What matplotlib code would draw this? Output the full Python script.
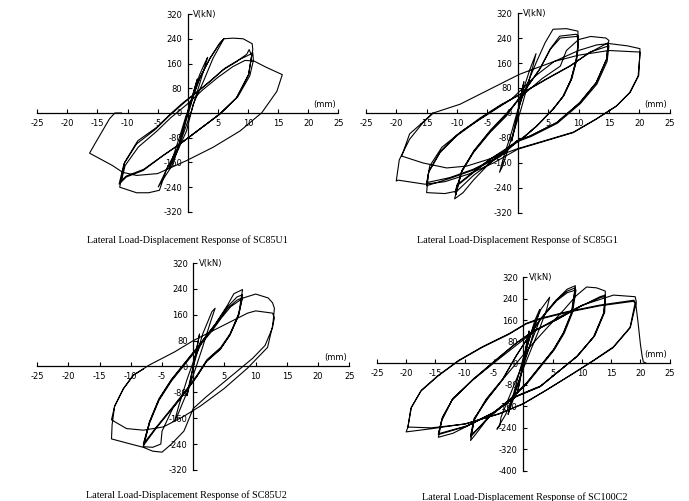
import numpy as np
import matplotlib
matplotlib.use("Agg")
import matplotlib.pyplot as plt

# Hysteresis paths (displacement mm, lateral load kN)
sc85u1_pts = [
    (0, 0), (0.6, 40), (1.2, 85), (1.6, 110), (1.2, 80), (0.5, 25), (-0.2, -20), (-0.8, -60), (-1.4, -100),
    (-1.1, -75), (-0.4, -25), (0.2, 15),
    (1, 70), (2, 125), (2.8, 160), (3.3, 180), (2.6, 135), (1.6, 70), (0.6, 5), (-0.6, -60), (-1.6, -115),
    (-2.6, -160), (-3.1, -180), (-2.5, -145), (-1.4, -80), (-0.3, -10),
    (0.5, 30), (2, 113), (3.7, 177), (5.3, 225), (6, 240), (4.2, 177), (2.6, 102), (0.9, 28), (-0.2, -58),
    (-1.9, -132), (-3.6, -186), (-4.9, -239), (-2.4, -164), (-0.8, -58), (0.3, 28), (2, 113), (3.7, 177),
    (5.3, 225), (6, 240), (7.5, 242), (9.2, 240), (10.7, 224), (10.8, 205), (10.1, 124), (8.1, 49), (5.3, -4),
    (3.1, -36), (-1.3, -100), (-3.5, -180), (-4.7, -250), (-6.5, -258), (-8.5, -258), (-11.3, -240),
    (-10.5, -160), (-8.3, -90), (-5.2, -47), (-2.7, 0), (-0.8, 33), (1.7, 70), (3.7, 102), (5.9, 140),
    (8.1, 166), (9.8, 190), (10.2, 205), (10.6, 185), (10.1, 124), (8.1, 49), (5.3, -4), (3.1, -36),
    (-1.3, -100), (-4.1, -138), (-7.4, -186), (-10.2, -207), (-11.4, -230),
    (-10.6, -165), (-8.5, -100), (-5.5, -55), (-3, -8), (-0.5, 35), (2, 75), (4, 108), (6.2, 145), (8.5, 172),
    (10.2, 188), (10.8, 195), (10.9, 170), (10.3, 120), (8.3, 52), (5.5, 0), (3.3, -33), (-1.1, -98),
    (-4, -136), (-7.3, -182), (-10.2, -204), (-11, -218),
    (-10.4, -170), (-8.2, -110), (-5.2, -60), (-2.8, -15), (0, 30), (2.5, 75), (5, 115), (7.5, 150),
    (9.5, 170), (11, 168), (13, 148), (15.7, 124), (14.8, 70), (12.3, 1), (8.7, -58), (4.2, -111),
    (-0.2, -154), (-5, -196), (-8.5, -202), (-10.8, -192), (-12.5, -170), (-16.3, -130), (-15.4, -99),
    (-13, -19), (-12.1, 0), (-11, 0),
]

sc85g1_pts = [
    (0, 0), (0.5, 50), (1, 100), (0.7, 70), (0, 0), (-0.5, -50), (-1, -90), (-0.6, -50), (0, 0),
    (1, 80), (2, 140), (3, 190), (2.5, 150), (1.5, 80), (0.5, 10), (-0.5, -50), (-1.5, -110), (-2.5, -170),
    (-3, -190), (-2.3, -140), (-1, -60), (0, 10),
    (1.5, 90), (3, 160), (4.5, 225), (5.8, 268), (8, 270), (9.9, 262), (9.9, 200), (9.6, 172), (8.8, 108),
    (7.5, 54), (5.8, 12), (3.1, -42), (0.9, -79), (-1.5, -110), (-4.6, -160), (-7.3, -215), (-9, -255),
    (-10.4, -275),
    (-9.3, -191), (-7.3, -127), (-4.6, -63), (-1.9, -10), (0.9, 65), (3.6, 140), (5.3, 204), (6.9, 246),
    (9.6, 252), (10, 245),
    (9.7, 170), (8.9, 110), (7.6, 56), (5.9, 14), (3.2, -40), (1, -77), (-1.4, -108), (-4.6, -148),
    (-7.3, -191), (-10, -233), (-10.2, -262),
    (-9.2, -185), (-7.2, -122), (-4.5, -58), (-1.8, -5), (1, 68), (3.7, 143), (5.4, 205), (7, 240),
    (9.7, 245), (10, 238),
    (9.6, 165), (8.7, 105), (7.4, 52), (5.7, 10), (3, -44), (0.8, -81), (-1.5, -112), (-4.7, -150),
    (-7.4, -190), (-10, -230), (-10.3, -255),
    (-9.2, -185), (-7.2, -120), (-4.5, -55), (-1.8, 0), (1, 60), (4, 110), (7, 150), (8, 200), (10, 235),
    (12, 245), (14.5, 240), (15, 232), (14.9, 225),
    (14.6, 172), (12.9, 97), (10.2, 33), (6.4, -31), (2, -74), (-0.2, -90), (-3, -138), (-7.3, -200),
    (-10, -250), (-12, -258), (-15, -255),
    (-14.7, -191), (-12.8, -127), (-10.1, -74), (-6.3, -20), (-3, 22), (0.9, 65), (4.7, 108), (8.6, 150),
    (11.8, 193), (14.9, 225),
    (14.6, 172), (12.9, 97), (10.2, 33), (6.4, -31), (2, -74), (-0.2, -90), (-3, -138), (-7.3, -180),
    (-11.2, -207), (-15, -223),
    (-14.6, -185), (-12.7, -122), (-10, -70), (-6.2, -16), (-2.9, 25), (1, 67), (4.8, 110), (8.7, 152),
    (11.9, 195), (15, 215),
    (14.7, 165), (13, 92), (10.3, 30), (6.5, -33), (2.1, -76), (-0.1, -92), (-2.9, -140), (-7.2, -182),
    (-11.1, -209), (-15, -233),
    (-14.5, -170), (-12.5, -110), (-9, -55), (-5, -5), (-1, 45), (3, 120), (6, 165), (10, 200), (13, 218),
    (15.1, 222), (18, 215), (20.1, 206), (20.1, 185),
    (19.8, 118), (18.4, 65), (16.2, 22), (12.9, -20), (9.1, -63), (3.6, -95), (0, -116), (-4, -160),
    (-8, -195), (-12, -220), (-15.3, -228), (-19.7, -215), (-20, -218),
    (-19.5, -150), (-17.8, -84), (-15.6, -31), (-13.9, 0), (-9.5, 28), (-4.6, 76), (0.3, 124), (2.5, 140),
    (6, 165), (10, 185), (15, 200), (20.1, 195),
    (19.9, 120), (18.5, 66), (16.3, 23), (13, -18), (9.2, -61), (3.7, -93), (0, -114), (-4.6, -147),
    (-8.4, -170), (-11.7, -176), (-15.6, -160), (-19.1, -138), (-17.8, -67), (-15, -19), (-14, 0),
]

sc85u2_pts = [
    (0, 0), (0.5, 50), (1, 100), (0.7, 70), (0, 0), (-0.5, -50), (-1, -90), (-0.6, -50), (0, 0),
    (1.5, 100), (3, 170), (3.5, 180), (2.8, 140), (1.5, 60), (0.3, -10), (-1, -80), (-2.5, -150),
    (-3, -170), (-2.3, -120), (-1, -40), (0.3, 30),
    (1.5, 80), (3.5, 130), (5.5, 190), (6.5, 225), (7.9, 238),
    (7.3, 165), (5.9, 101), (4.4, 59), (2.2, 21), (0.6, -27), (-1, -69), (-3.2, -123), (-5.9, -187),
    (-8, -240),
    (-7, -170), (-5.5, -100), (-3.5, -40), (-1, 20), (1.5, 80), (3.5, 130), (5.5, 185), (7, 215),
    (7.9, 222),
    (7.3, 160), (5.9, 98), (4.4, 56), (2.2, 18), (0.6, -30), (-1, -72), (-3.2, -126), (-5.9, -190),
    (-8, -245),
    (-7, -172), (-5.5, -102), (-3.5, -42), (-1, 18), (1.5, 78), (3.5, 128), (5.5, 180), (7, 205),
    (7.9, 213),
    (7.2, 155), (5.8, 95), (4.3, 52), (2.1, 15), (0.5, -33), (-1.1, -75), (-3.3, -130), (-5, -200),
    (-5.2, -240), (-6.5, -250), (-8, -248),
    (-7, -175), (-5.5, -105), (-3.5, -45), (-1, 15), (1.5, 75), (3, 110), (4.5, 150), (6, 185), (8, 212),
    (10, 224), (12, 212), (12.7, 197), (13, 180),
    (12.7, 120), (11.5, 65), (9.5, 25), (7, -15), (4.5, -55), (2, -95), (0, -130), (-1.5, -200),
    (-3.5, -240), (-5, -265), (-6.5, -262), (-8, -250), (-10, -240), (-13.1, -224),
    (-13, -180), (-12.6, -123), (-11.2, -69), (-9.6, -27), (-7, 5), (-3, 45), (0, 80), (4.4, 123),
    (8.7, 165), (10, 172), (12.7, 165), (13, 150),
    (11.9, 59), (8.7, -5), (4.9, -69), (1.1, -123), (-1.6, -155), (-4.8, -187), (-8, -197),
    (-10.7, -192), (-13.1, -165), (-12.6, -123), (-11.2, -69), (-9.6, -27), (-8, -8),
]

sc100c2_pts = [
    (0, 0), (0.5, 60), (1, 120), (0.7, 90), (0, 10), (-0.5, -50), (-1, -110), (-0.6, -70), (0, 0),
    (1, 90), (2, 160), (2.8, 200), (2.3, 160), (1.3, 80), (0.3, 10), (-0.8, -70), (-1.8, -140),
    (-2.6, -190), (-2, -140), (-1, -60), (0, 20),
    (1.5, 120), (3, 200), (4.5, 245), (4, 200), (2.8, 130), (1.5, 60), (0, -20), (-1.5, -110),
    (-3, -190), (-4.5, -245), (-4, -232), (-3.8, -200), (-2.5, -130), (-1, -50), (0.5, 30),
    (2.8, 160), (5.6, 234), (7.5, 275), (8.9, 288),
    (8.2, 185), (6.8, 110), (5.1, 48), (2.8, -14), (0.5, -76), (-2.4, -138), (-5.9, -200), (-8, -260),
    (-9, -287),
    (-8.4, -212), (-6.4, -138), (-3.6, -63), (-1.3, 24), (0.7, 92), (2.8, 160), (5.6, 234), (7.5, 268),
    (8.9, 280),
    (8.3, 190), (6.9, 115), (5.2, 52), (2.9, -10), (0.6, -72), (-2.3, -134), (-5.8, -196), (-8, -250),
    (-9, -274),
    (-8.3, -205), (-6.3, -132), (-3.5, -58), (-1.2, 28), (0.8, 95), (2.9, 162), (5.7, 232), (7.5, 262),
    (9, 272),
    (8.4, 188), (7, 112), (5.3, 50), (3, -12), (0.7, -74), (-2.2, -136), (-5.7, -198), (-8, -248),
    (-9, -268),
    (-8.4, -205), (-6, -130), (-3.5, -60), (-1, 5), (1.5, 70), (4, 130), (7, 200), (9, 250), (10.8, 283),
    (12.5, 280), (14, 268), (14, 255),
    (13.7, 185), (12, 98), (9.1, 24), (5.6, -38), (2.8, -88), (-1.3, -125), (-5.3, -187), (-9.9, -237),
    (-12, -260), (-14.5, -275),
    (-13.9, -212), (-12.2, -138), (-8.7, -63), (-4.7, 11), (-1.3, 73), (1.6, 117), (5.6, 160),
    (9.7, 210), (13.1, 247), (14, 253),
    (13.8, 188), (12.1, 100), (9.2, 26), (5.7, -36), (2.9, -86), (-1.2, -123), (-5.2, -185),
    (-9.8, -235), (-14.5, -265),
    (-13.9, -208), (-12.1, -134), (-8.6, -60), (-4.6, 14), (-1.2, 75), (1.7, 120), (5.7, 162),
    (9.8, 212), (13.2, 244), (14, 248),
    (13.9, 190), (12.2, 102), (9.3, 28), (5.8, -34), (3, -84), (-1.1, -121), (-5.1, -183), (-9.7, -233),
    (-14.5, -262),
    (-13.8, -200), (-12, -130), (-8.5, -60), (-4.5, 10), (-1, 70), (2, 120), (6, 170), (10, 215),
    (15.4, 253), (19.1, 247), (19.3, 228),
    (18.3, 135), (15.4, 61), (12, 11), (8.5, -38), (3.9, -100), (0, -150), (-4.1, -187), (-9.9, -225),
    (-15.6, -243), (-20, -255),
    (-19.7, -237), (-19.1, -163), (-17.4, -100), (-14.5, -45), (-11, 11), (-7, 61), (-2.4, 110),
    (0.5, 148), (2.8, 166), (7.4, 191), (13.1, 216), (18.9, 234), (19.1, 225),
    (18.2, 130), (15.3, 57), (11.9, 8), (8.4, -40), (3.8, -102), (-0.1, -152), (-4.2, -189), (-10, -226),
    (-15.7, -240), (-19.7, -237),
    (-19.2, -168), (-17.5, -104), (-14.6, -48), (-11.1, 8), (-7.1, 58), (-2.5, 107), (0.4, 145),
    (2.7, 163), (7.3, 188), (13, 213), (18.8, 230), (19.2, 222), (19.6, 150), (20, 70), (20.3, 25),
    (20.5, 5), (21, 0),
]

specimens = ["SC85U1", "SC85G1", "SC85U2", "SC100C2"]
curves = [sc85u1_pts, sc85g1_pts, sc85u2_pts, sc100c2_pts]
y_bottoms = [-320, -320, -320, -400]
x_ticks = list(range(-25, 26, 5))

rects = [
    [0.054, 0.577, 0.437, 0.395],
    [0.531, 0.575, 0.441, 0.399],
    [0.054, 0.062, 0.453, 0.413],
    [0.547, 0.060, 0.425, 0.387],
]
title_pos = [(187, 240), (517, 240), (186, 495), (525, 497)]

W, H = 689, 501
fig = plt.figure(figsize=(W / 100, H / 100), dpi=100)

for name, pts, ybot, rect, tpos in zip(specimens, curves, y_bottoms, rects, title_pos):
    ax = fig.add_axes(rect)
    data = np.array(pts, dtype=float)
    ax.plot(data[:, 0], data[:, 1], color="black", linewidth=0.8, zorder=3)

    ax.set_xlim(-25, 25)
    ax.set_ylim(ybot, 320)
    ax.spines["left"].set_position(("data", 0))
    ax.spines["bottom"].set_position(("data", 0))
    ax.spines["right"].set_visible(False)
    ax.spines["top"].set_visible(False)
    for s in ["left", "bottom"]:
        ax.spines[s].set_linewidth(0.9)
    ax.set_axisbelow(True)

    ax.set_xticks(x_ticks)
    ax.set_xticklabels(["" if t == 0 else str(t) for t in x_ticks])
    yt = list(range(ybot, 321, 80))
    ax.set_yticks(yt)
    ax.set_yticklabels([str(t) for t in yt])
    ax.tick_params(direction="in", length=3, width=0.8, labelsize=6, pad=4, colors="black")
    for lab in ax.get_xticklabels() + ax.get_yticklabels():
        lab.set_family("DejaVu Sans")
    ax.patch.set_visible(False)

    ax.text(0.9, 320, "V(kN)", fontsize=6, ha="left", va="center", family="DejaVu Sans")
    ax.text(24.6, 14, "(mm)", fontsize=6, ha="right", va="bottom", family="DejaVu Sans")

    fig.text(tpos[0] / W, 1 - tpos[1] / H, "Lateral Load-Displacement Response of " + name,
             ha="center", va="center", fontsize=7.3, family="Liberation Serif")

fig.savefig("out.png", dpi=100)
